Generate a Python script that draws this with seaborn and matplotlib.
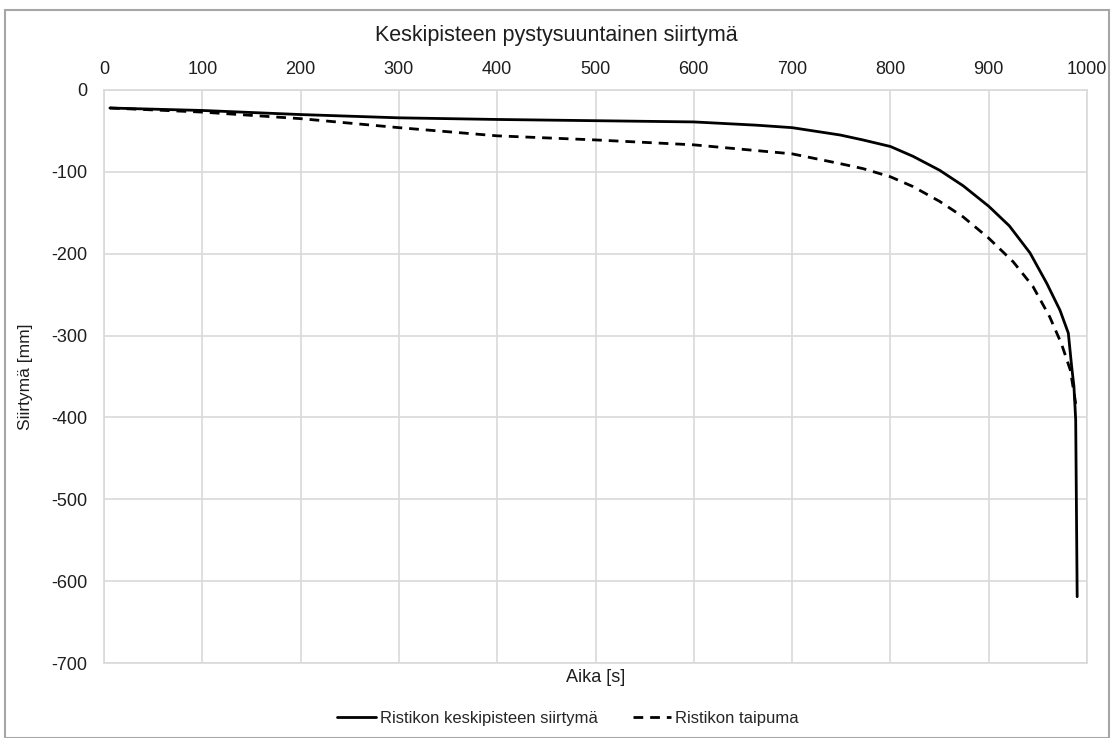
import matplotlib
matplotlib.use("Agg")
import matplotlib.pyplot as plt
import seaborn as sns
import pandas as pd
from matplotlib.patches import Rectangle

sns.set_theme(style="white")
plt.rcParams['font.family'] = ['Liberation Sans', 'DejaVu Sans']
plt.rcParams['axes.unicode_minus'] = False

# Data
t_solid = [6, 100, 200, 300, 400, 500, 600, 664, 700, 749, 772, 800, 823, 850, 874, 900, 921, 942, 959, 972.5, 981, 984.4, 986.7, 988.5, 990]
y_solid = [-22, -25, -30, -34, -36, -37.5, -39, -43, -46, -55, -61, -69, -81, -98, -117, -142, -166, -199, -236, -269, -297, -338, -362, -403, -619]
t_dash = [6, 100, 200, 300, 400, 500, 600, 700, 749, 772, 800, 823, 850, 874, 900, 925, 945, 962, 974, 983, 988, 989]
y_dash = [-22, -27, -35, -46, -56, -61, -67, -78, -90, -96, -106, -118, -136, -155, -181, -210, -240, -277, -310, -342, -379, -388]

label_solid = "Ristikon keskipisteen siirtymä"
label_dash = "Ristikon taipuma"

df_s = pd.DataFrame({"t": t_solid, "y": y_solid})
df_d = pd.DataFrame({"t": t_dash, "y": y_dash})

fig = plt.figure(figsize=(11.13, 7.38), dpi=100)
ax = fig.add_axes([104/1113, 1-663/738, (1087-104)/1113, (663-90)/738])

sns.lineplot(data=df_s, x="t", y="y", ax=ax, color="black", lw=2.0, label=label_solid, sort=False)
sns.lineplot(data=df_d, x="t", y="y", ax=ax, color="black", lw=2.0, linestyle=(0, (3.5, 2.5)), label=label_dash, sort=False)

ax.set_xlim(0, 1000)
ax.set_ylim(-700, 0)
ax.set_xticks(range(0, 1001, 100))
ax.set_yticks(range(-700, 1, 100))
ax.xaxis.tick_top()
ax.tick_params(axis='both', length=0, labelsize=13, colors='#1e1e1e')
ax.tick_params(axis='x', pad=9)
ax.tick_params(axis='y', pad=12)
ax.grid(True, color='#d9d9d9', lw=1.2)
for s in ax.spines.values():
    s.set_color('#d9d9d9')
    s.set_linewidth(1.2)

ax.set_xlabel("Aika [s]", fontsize=13, color='#1e1e1e')
ax.xaxis.set_label_position('bottom')
ax.set_ylabel("Siirtymä [mm]", fontsize=12.5, color='#1e1e1e')
ax.yaxis.set_label_coords(-0.072, 0.5)
ax.xaxis.set_label_coords(0.5, -0.01)
ax.xaxis.label.set_va('top')

fig.text(0.5, 1-36/738, "Keskipisteen pystysuuntainen siirtymä", ha='center', va='center', fontsize=15.5, color='#1e1e1e')

ax.legend(loc='center', bbox_to_anchor=(0.472, -0.097), ncol=2, frameon=False, fontsize=12,
          handlelength=2.3, columnspacing=2.1, handletextpad=0.25)

fig.patches.append(Rectangle((5/1113, 0), 1104/1113, 1-10/738, transform=fig.transFigure,
                             fill=False, edgecolor='#a6a6a6', lw=1.5))

fig.savefig("out.png", dpi=100)
